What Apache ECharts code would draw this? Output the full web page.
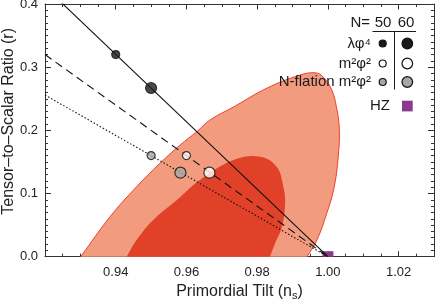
<!DOCTYPE html>
<html><head><meta charset="utf-8">
<script src="https://cdn.jsdelivr.net/npm/echarts@6/dist/echarts.min.js"></script>
<style>html,body{margin:0;padding:0;background:#fff}#c{width:435px;height:300px}</style>
</head><body><div id="c"></div>
<script>
// ---- data ----
const xTickLabels = ['0.94','0.96','0.98','1.00','1.02'];
const yTickLabels = ['0.0','0.1','0.2','0.3','0.4'];
// 95% (outer) contour boundary [ns, r]; first/last points continue below r = 0 and are clipped by the axis
const outerNs = [0.9262,0.9301,0.9384,0.9459,0.9525,0.9582,0.9629,0.9667,0.9733,0.9828,0.9921,0.9964,0.9986,1.0011,1.0024,1.0032,1.0030,1.0018,0.9997,0.9969,0.9941,0.9909];
const outerR  = [-0.03,0,0.0633,0.1108,0.1478,0.1767,0.1978,0.2165,0.2370,0.2669,0.2875,0.2911,0.2848,0.2638,0.2373,0.2057,0.1641,0.1108,0.0691,0.0264,0,-0.03];
// 68% (inner) contour boundary [ns, r]
const innerNs = [0.9399,0.9431,0.9459,0.9506,0.9573,0.9638,0.9733,0.9808,0.9855,0.9874,0.9879,0.9870,0.9851,0.9836,0.9815];
const innerR  = [-0.03,0,0.0264,0.0581,0.0897,0.1214,0.1530,0.1582,0.1424,0.1108,0.0850,0.0475,0.0217,0,-0.03];
// model predictions, N = 50 and N = 60
const nValues = [50, 60];
const lambdaNs = [0.940, 0.950];   const lambdaR = [0.320, 0.267];
const m2Ns     = [0.960, 0.9665];  const m2R     = [0.160, 0.133];
const nflNs    = [0.950, 0.9583];  const nflR    = [0.160, 0.133];
// model lines [ns, r]
const lambdaLineNs = [0.92, 1.00]; const lambdaLineR = [0.427, 0];
const m2LineNs     = [0.92, 1.00]; const m2LineR     = [0.320, 0];
const nflLineNs    = [0.92, 1.00]; const nflLineR    = [0.256, 0];
// Harrison-Zeldovich
const hzNs = [1.00]; const hzR = [0];

const FONT = 'Liberation Sans, Arial, Helvetica, sans-serif';
const zip = (a,b) => a.map((v,i)=>[v,b[i]]);
const chart = echarts.init(document.getElementById('c'));

function polySeries(ns, r, fill, stroke, z){
  return {
    type:'custom', xAxisIndex:0, yAxisIndex:0, z:z, clip:true, silent:true,
    data:[[ns[1], r[1]]],
    renderItem:(params, api)=>{
      const pts = ns.map((v,i)=>api.coord([v, r[i]]));
      return {type:'polygon', shape:{points:pts, smooth:0.4},
        style:{fill:fill, stroke:stroke || 'none', lineWidth: stroke ? 1 : 0}};
    }
  };
}
function lineSeries(ns, r, type){
  return {type:'line', xAxisIndex:0, yAxisIndex:0, data:zip(ns,r), symbol:'none', z:5, clip:true, silent:true,
    lineStyle:{color:'#111', width:1.1, type:type}};
}
function pointSeries(ns, r, fill){
  return {type:'scatter', xAxisIndex:0, yAxisIndex:0, z:8, silent:true,
    data: zip(ns,r).map((p,i)=>({value:p, symbolSize: nValues[i]===50 ? 8 : 11})),
    itemStyle:{color:fill, borderColor:'#111', borderWidth:1.2}};
}
function isLabel(v){ const s=v.toFixed(2); return xTickLabels.indexOf(s) >= 0 && Math.abs(v*50-Math.round(v*50))<1e-6; }

const baseX = {type:'value', min:0.92, max:1.03, splitLine:{show:false}};
const option = {
  animation:false,
  grid:{left:45, right:1, top:4, bottom:43.3, outerBoundsMode:'none', containLabel:false},
  xAxis:[
    Object.assign({}, baseX, {position:'bottom', interval:0.005,
      axisLine:{lineStyle:{color:'#333', width:1}},
      axisTick:{inside:true, length:3, lineStyle:{color:'#333'}},
      axisLabel:{color:'#222', fontSize:13, fontFamily:FONT, margin:9,
        formatter:v=> isLabel(v) ? v.toFixed(2) : ''},
      name:'Primordial Tilt (n{s|s})', nameLocation:'middle', nameGap:23,
      nameTextStyle:{color:'#222', fontSize:16, fontFamily:FONT,
        rich:{s:{fontSize:11, fontFamily:FONT, color:'#222', padding:[9,0,0,0]}}}
    }),
    Object.assign({}, baseX, {position:'bottom', interval:0.02, axisLine:{show:false},
      axisTick:{inside:true, length:5.5, lineStyle:{color:'#333'}}, axisLabel:{show:false}}),
    Object.assign({}, baseX, {position:'top', interval:0.005,
      axisLine:{lineStyle:{color:'#333', width:1}},
      axisTick:{inside:true, length:3, lineStyle:{color:'#333'}}, axisLabel:{show:false}}),
    Object.assign({}, baseX, {position:'top', interval:0.02, axisLine:{show:false},
      axisTick:{inside:true, length:5.5, lineStyle:{color:'#333'}}, axisLabel:{show:false}})
  ],
  yAxis:[
    {type:'value', min:0, max:0.4, interval:0.1, position:'left', splitLine:{show:false},
      axisLine:{show:true, lineStyle:{color:'#333', width:1}},
      axisTick:{show:true, inside:true, length:6, lineStyle:{color:'#333'}},
      minorTick:{show:true, splitNumber:10, length:3, lineStyle:{color:'#333'}},
      axisLabel:{color:'#222', fontSize:13, fontFamily:FONT, margin:7,
        formatter:v=> yTickLabels[Math.round(v*10)]},
      name:'Tensor\u2013to\u2013Scalar Ratio (r)', nameLocation:'middle', nameGap:28, nameRotate:90,
      nameMoveOverlap:false,
      nameTextStyle:{color:'#222', fontSize:16, fontFamily:FONT, padding:[0,0,0,18]}},
    {type:'value', min:0, max:0.4, interval:0.1, position:'right', splitLine:{show:false},
      axisLine:{show:true, lineStyle:{color:'#333', width:1}},
      axisTick:{show:true, inside:true, length:6, lineStyle:{color:'#333'}},
      minorTick:{show:true, splitNumber:10, length:3, lineStyle:{color:'#333'}},
      axisLabel:{show:false}}
  ],
  series:[
    polySeries(outerNs, outerR, '#F39B7F', '#E8442C', 1),
    polySeries(innerNs, innerR, '#E04128', null, 2),
    {type:'custom', xAxisIndex:0, yAxisIndex:0, z:4, silent:true, data:zip(hzNs,hzR),
      renderItem:(params, api)=>{
        const c = api.coord([api.value(0), api.value(1)]);
        const s = 11;
        const rect = echarts.graphic.clipRectByRect({x:c[0]-s/2, y:c[1]-s/2, width:s, height:s},
          {x:params.coordSys.x, y:params.coordSys.y, width:params.coordSys.width, height:params.coordSys.height});
        return rect ? {type:'rect', shape:rect, style:{fill:'#8B3A8F'}} : null;
      }},
    lineSeries(lambdaLineNs, lambdaLineR, 'solid'),
    lineSeries(m2LineNs, m2LineR, [8,5]),
    lineSeries(nflLineNs, nflLineR, [1.5,2]),
    pointSeries(lambdaNs, lambdaR, '#1a1a1a'),
    pointSeries(m2Ns, m2R, '#ffffff'),
    pointSeries(nflNs, nflR, '#A8A8A8')
  ],
  graphic:[
    {type:'text', x:370, y:23, z:100, style:{text:'N=', font:'15px '+FONT, fill:'#1a1a1a', textAlign:'right', textVerticalAlign:'middle'}},
    {type:'text', x:383, y:23, z:100, style:{text:'50', font:'15px '+FONT, fill:'#1a1a1a', textAlign:'center', textVerticalAlign:'middle'}},
    {type:'text', x:406, y:23, z:100, style:{text:'60', font:'15px '+FONT, fill:'#1a1a1a', textAlign:'center', textVerticalAlign:'middle'}},
    {type:'line', z:100, shape:{x1:372.5, y1:31.5, x2:416, y2:31.5}, style:{stroke:'#1a1a1a', lineWidth:1}},
    {type:'line', z:100, shape:{x1:394.5, y1:31.5, x2:394.5, y2:89.5}, style:{stroke:'#1a1a1a', lineWidth:1}},
    {type:'text', x:371, y:43.5, z:100, style:{text:'\u03bb\u03c6\u2074', font:'15px '+FONT, fill:'#1a1a1a', textAlign:'right', textVerticalAlign:'middle'}},
    {type:'text', x:371, y:63.5, z:100, style:{text:'m\u00b2\u03c6\u00b2', font:'15px '+FONT, fill:'#1a1a1a', textAlign:'right', textVerticalAlign:'middle'}},
    {type:'text', x:371, y:82, z:100, style:{text:'N-flation m\u00b2\u03c6\u00b2', font:'15px '+FONT, fill:'#1a1a1a', textAlign:'right', textVerticalAlign:'middle'}},
    {type:'text', x:390, y:106, z:100, style:{text:'HZ', font:'15px '+FONT, fill:'#1a1a1a', textAlign:'right', textVerticalAlign:'middle'}},
    {type:'circle', z:100, shape:{cx:382.7, cy:43.5, r:3.5}, style:{fill:'#1a1a1a', stroke:'#111', lineWidth:1.2}},
    {type:'circle', z:100, shape:{cx:407.3, cy:43.5, r:5.3}, style:{fill:'#1a1a1a', stroke:'#111', lineWidth:1.2}},
    {type:'circle', z:100, shape:{cx:382.7, cy:63.5, r:3.5}, style:{fill:'#fff', stroke:'#111', lineWidth:1.2}},
    {type:'circle', z:100, shape:{cx:407.3, cy:63.5, r:5.3}, style:{fill:'#fff', stroke:'#111', lineWidth:1.2}},
    {type:'circle', z:100, shape:{cx:382.7, cy:82, r:3.5}, style:{fill:'#A8A8A8', stroke:'#111', lineWidth:1.2}},
    {type:'circle', z:100, shape:{cx:407.3, cy:82, r:5.3}, style:{fill:'#A8A8A8', stroke:'#111', lineWidth:1.2}},
    {type:'rect', z:100, shape:{x:402, y:100.7, width:10.7, height:10.7}, style:{fill:'#8B3A8F'}}
  ]
};
chart.setOption(option);
</script></body></html>
